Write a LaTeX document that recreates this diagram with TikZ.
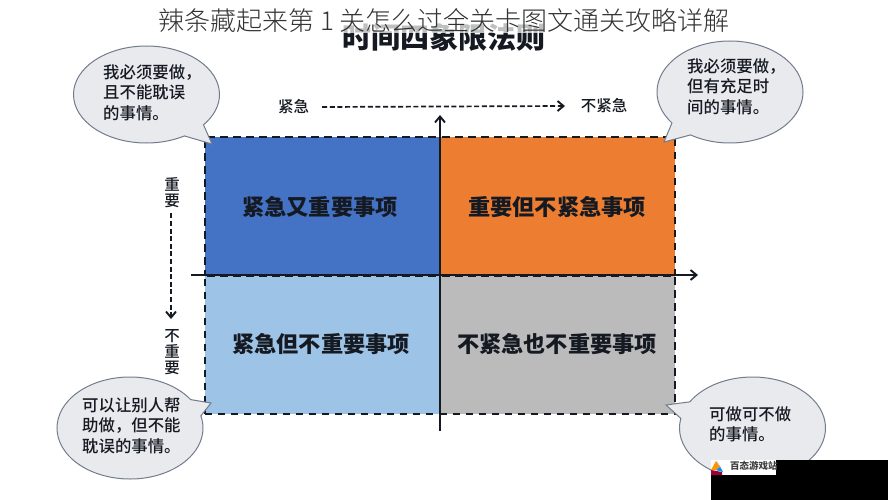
\documentclass[tikz,border=0pt]{standalone}
\usepackage{fontspec}
\setmainfont{Noto Sans CJK SC}
\newfontfamily\cjklight{Noto Sans CJK SC Light}
\newfontfamily\cjkmed{Noto Sans CJK SC Medium}
\usetikzlibrary{shapes.callouts,arrows.meta}
\definecolor{qblue}{HTML}{4472C4}
\definecolor{qorange}{HTML}{ED7D31}
\definecolor{qlight}{HTML}{9DC3E6}
\definecolor{qgray}{HTML}{BBBBBB}
\definecolor{bubblefill}{HTML}{E9EAEE}
\definecolor{bubbleline}{HTML}{737C8C}
\definecolor{ink}{HTML}{151A22}
\tikzset{
  x=1pt,y=-1pt,
  quad/.style={draw=ink,line width=2pt,dash pattern=on 7.5pt off 5.5pt,minimum width=235pt,minimum height=138pt,inner sep=0pt,outer sep=0pt,anchor=north west},
  quadtext/.style={inner sep=0pt,text=ink,font=\fontsize{22.2pt}{24pt}\selectfont\bfseries},
  bubble/.style={ellipse callout,draw=bubbleline,fill=bubblefill,line width=1pt,minimum width=146pt,inner sep=0pt,outer sep=0pt,callout pointer arc=20},
  bubtext/.style={anchor=north west,inner sep=0pt,align=left,text=ink,font=\cjkmed\fontsize{16.4pt}{20.5pt}\selectfont},
  axislabel/.style={inner sep=0pt,text=ink,font=\cjkmed\fontsize{15.5pt}{15.5pt}\selectfont,align=center},
  axisline/.style={line width=1.7pt,draw=ink,-{Straight Barb[length=6pt,width=10pt,line width=1.9pt]}},
  dashline/.style={axisline,dash pattern=on 5pt off 2.6pt},
}
\begin{document}
\begin{tikzpicture}
\useasboundingbox (0,0) rectangle (888,500);
\fill[white] (0,0) rectangle (888,500);
% faded underlying heading
\node[inner sep=0pt,text=ink,font=\fontsize{29pt}{30pt}\selectfont\bfseries] (oldtitle) at (444,37) {时间四象限法则};
\fill[white,opacity=0.72] (330,0) rectangle (560,33);
\node[inner sep=0pt,text=black!80,font=\cjklight\fontsize{26pt}{27pt}\selectfont] (title) at (444,21) {辣条藏起来第 1 关怎么过全关卡图文通关攻略详解};
% quadrants
\node[quad,fill=qblue] (q1) at (204.5,137) {};
\node[quad,fill=qorange] (q2) at (439.5,137) {};
\node[quad,fill=qlight] (q3) at (204.5,275.5) {};
\node[quad,fill=qgray] (q4) at (439.5,275.5) {};
\node[quadtext] (t1) at (320,207) {紧急又重要事项};
\node[quadtext] (t2) at (557,207) {重要但不紧急事项};
\node[quadtext] (t3) at (321,344) {紧急但不重要事项};
\node[quadtext] (t4) at (557,344) {不紧急也不重要事项};
% axes
\coordinate (xa) at (191,275);
\coordinate (xb) at (698,275);
\coordinate (ya) at (440,431);
\coordinate (yb) at (440,115);
\draw[axisline] (xa) -- (xb);
\draw[axisline] (ya) -- (yb);
% urgency and importance
\node[axislabel] (urgent) at (293.5,107) {紧急};
\node[axislabel] (noturgent) at (604,106) {不紧急};
\node[axislabel,text width=16pt,font=\cjkmed\fontsize{15.5pt}{16pt}\selectfont] (imp) at (172,193) {重\\要};
\node[axislabel,text width=16pt,font=\cjkmed\fontsize{15.5pt}{16pt}\selectfont] (notimp) at (172,352) {不\\重\\要};
\draw[dashline] (urgent.east) ++(13,0) coordinate (ua) -- (565,106);
\draw[dashline] (imp.south) ++(-1,5) coordinate (ia) -- (171,319);
% callouts
\node[bubble,minimum height=97pt,callout absolute pointer={(212,144)}] (b1) at (146.5,94.5) {};
\node[bubble,minimum height=102pt,callout absolute pointer={(664,142)}] (b2) at (730,92) {};
\node[bubble,minimum height=102pt,callout absolute pointer={(211,403)}] (b3) at (130,428) {};
\node[bubble,minimum height=102pt,callout absolute pointer={(666,405)}] (b4) at (752.5,428) {};
\node[bubtext] (bt1) at (103,64) {我必须要做，\\且不能耽误\\的事情。};
\node[bubtext] (bt2) at (687,58) {我必须要做，\\但有充足时\\间的事情。};
\node[bubtext] (bt3) at (82,397) {可以让别人帮\\助做，但不能\\耽误的事情。};
\node[bubtext] (bt4) at (709,406) {可做可不做\\的事情。};
% watermark
\fill[black] (711,475) rectangle (888,500);
\fill[black] (776,460) rectangle (888,475);
\node[fill=white,minimum width=65pt,minimum height=15pt,inner sep=0pt,outer sep=0pt,anchor=north west] (logobox) at (711,460) {};
\fill[orange!85!yellow] (711,470) -- (716,461) -- (720,467) -- (716,470) -- cycle;
\fill[blue!45!cyan] (717,461) -- (723,472) -- (716,470) -- (720,467) -- cycle;
\fill[purple!80!black] (711,470) -- (722,472) -- (722,475) -- (711,475) -- cycle;
\node[inner sep=0pt,anchor=west,text=black!75,font=\fontsize{9.5pt}{10pt}\selectfont\bfseries] (logotext) at (730,465.5) {百态游戏站};
\end{tikzpicture}
\end{document}
